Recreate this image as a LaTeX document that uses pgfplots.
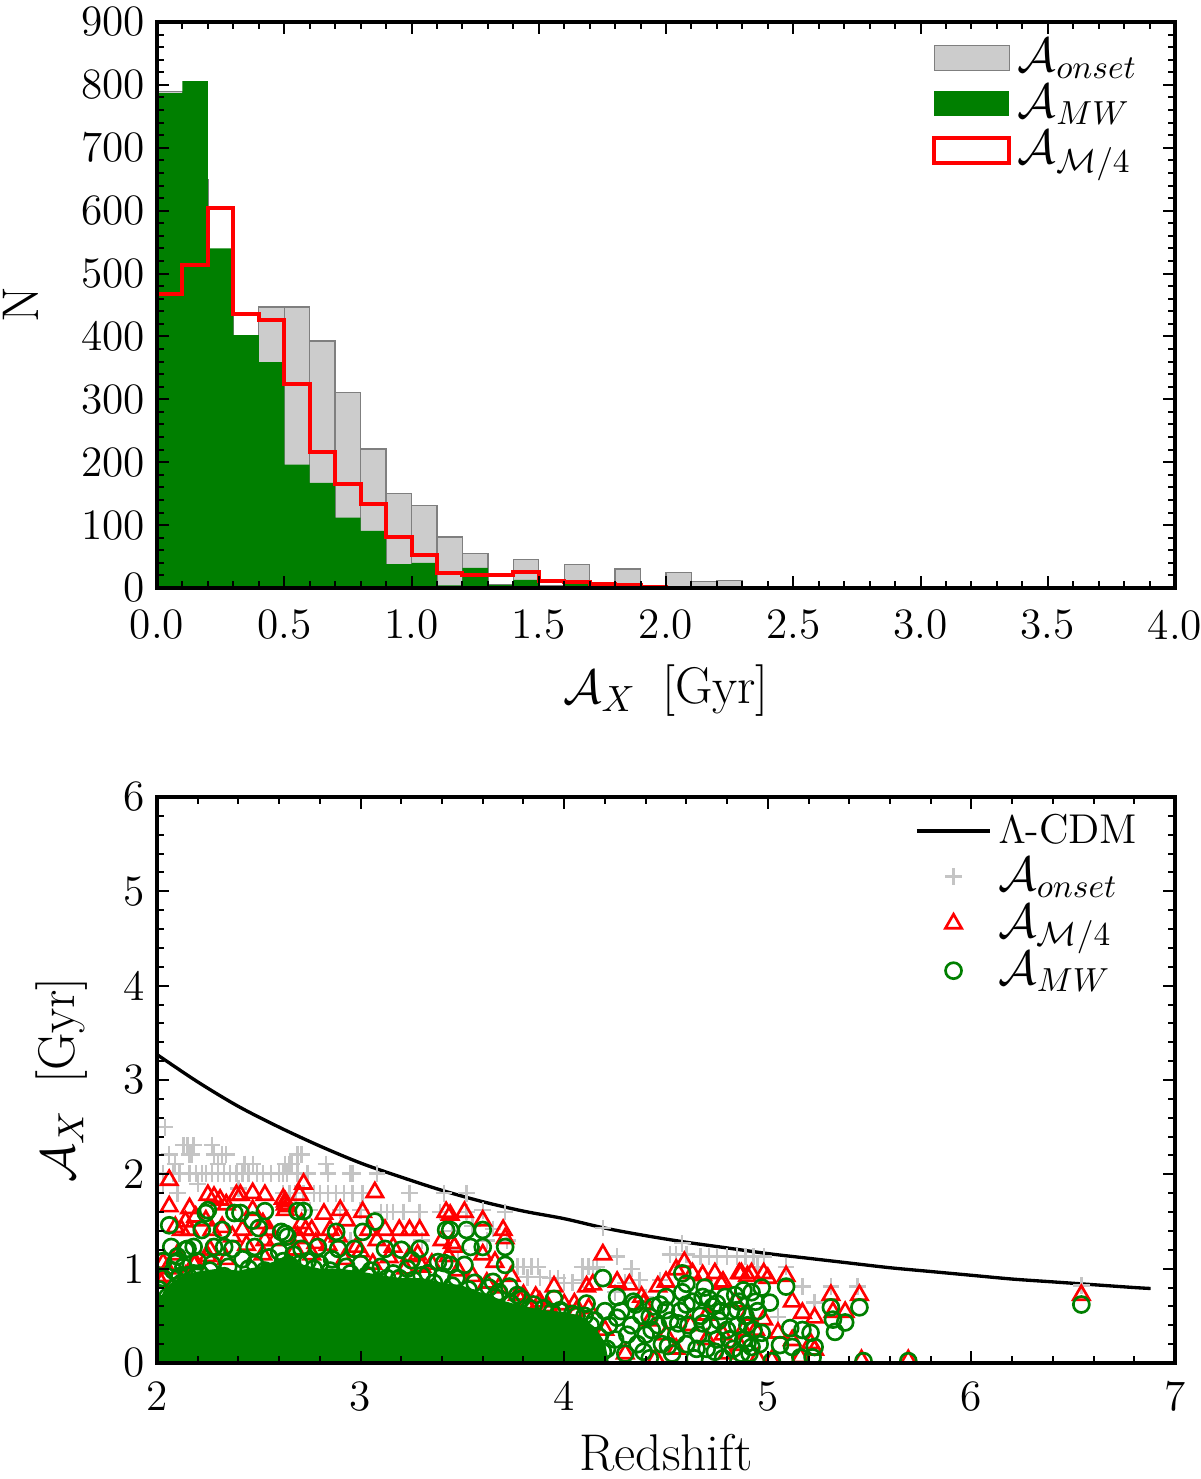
\documentclass[border=0pt]{standalone}
\usepackage{fontspec}
\usepackage{pgfplots}
\pgfplotsset{compat=1.18}

\definecolor{histgray}{HTML}{CCCCCC}
\definecolor{edgegray}{HTML}{7F7F7F}
\definecolor{plusgray}{HTML}{C4C4C4}
\definecolor{mplgreen}{HTML}{007F00}

\pgfplotsset{
  every axis/.append style={
    scale only axis, width=305.4pt, height=169.8pt, axis on top,
    axis line style={line width=1pt},
    every tick/.style={black, line width=0.6pt},
    major tick length=3.6pt, minor tick length=2.2pt,
    minor x tick num=4, minor y tick num=4,
    /pgf/number format/assume math mode=true,
    tick label style={font=\fontsize{13}{15}\selectfont},
    label style={font=\fontsize{15.5}{18}\selectfont},
    legend style={draw=none, fill=none, font=\fontsize{14.5}{16}\selectfont,
      cells={anchor=west}},
  },
  markslegend/.style={legend image code/.code={%
    \draw[mark repeat=2, mark phase=2, ##1] plot coordinates {(0pt,0pt) (11pt,0pt) (22pt,0pt)};}},
}

\begin{document}
\begin{tikzpicture}
\useasboundingbox (-47.1pt,-267.3pt) rectangle (312.9pt,176.4pt);

% histogram panel
\begin{axis}[name=top, at={(0,0)}, anchor=south west,
    xmin=0, xmax=4, ymin=0, ymax=900,
    xtick={0,0.5,...,4}, ytick={0,100,...,900},
    xticklabel style={yshift=-3pt, /pgf/number format/.cd, fixed, fixed zerofill, precision=1},
    xlabel={$\mathcal{A}_X$\enspace[Gyr]}, ylabel={N},
    xlabel shift=0.5pt, ylabel shift=6pt,
    legend style={at={(0.98,0.995)}, anchor=north east, row sep=-1.5pt},
  ]
  \addplot[ybar interval, fill=histgray, draw=edgegray, line width=0.4pt,
    legend image code/.code={\draw[fill=histgray, draw=edgegray, line width=0.4pt] (0pt,-3.75pt) rectangle (22.5pt,3.75pt);}]
    table[row sep=\\]{x y \\
      0.0 790 \\ 0.1 650 \\ 0.2 510 \\ 0.3 390 \\ 0.4 447 \\ 0.5 447 \\
      0.6 393 \\ 0.7 311 \\ 0.8 221 \\ 0.9 150 \\ 1.0 131 \\ 1.1 81 \\
      1.2 55 \\ 1.3 5 \\ 1.4 45 \\ 1.5 4 \\ 1.6 37 \\ 1.7 2 \\
      1.8 30 \\ 1.9 1 \\ 2.0 25 \\ 2.1 10 \\ 2.2 12 \\ 2.3 2 \\ 2.4 2 \\
    };
  \addlegendentry{$\mathcal{A}_{onset}$}
  \addplot[ybar interval, fill=mplgreen, draw=none,
    legend image code/.code={\fill[mplgreen] (0pt,-3.75pt) rectangle (22.5pt,3.75pt);}]
    table[row sep=\\]{x y \\
      0.0 787 \\ 0.1 806 \\ 0.2 540 \\ 0.3 402 \\ 0.4 359 \\ 0.5 196 \\
      0.6 167 \\ 0.7 112 \\ 0.8 91 \\ 0.9 38 \\ 1.0 40 \\ 1.1 4 \\
      1.2 32 \\ 1.3 5 \\ 1.4 13 \\ 1.5 2 \\ 1.6 7 \\ 1.7 1 \\ 1.8 1 \\
    };
  \addlegendentry{$\mathcal{A}_{MW}$}
  \addplot[const plot, red, line width=1.2pt,
    legend image code/.code={\draw[red, line width=1.2pt] (0pt,-3.75pt) rectangle (22.5pt,3.75pt);}]
    table[row sep=\\]{x y \\
      0.0 468 \\ 0.1 514 \\ 0.2 604 \\ 0.3 436 \\ 0.4 426 \\ 0.5 324 \\
      0.6 216 \\ 0.7 165 \\ 0.8 134 \\ 0.9 81 \\ 1.0 53 \\ 1.1 24 \\
      1.2 21 \\ 1.3 20 \\ 1.4 25 \\ 1.5 11 \\ 1.6 10 \\ 1.7 6 \\
      1.8 5 \\ 1.9 2 \\ 2.0 0 \\
    };
  \addlegendentry{$\mathcal{A}_{\mathcal{M}/4}$}
\end{axis}

% redshift panel
\begin{axis}[name=bot, at={(0,-232.5pt)}, anchor=south west,
    xmin=2, xmax=7, ymin=0, ymax=6,
    xtick={2,3,...,7}, ytick={0,1,...,6},
    xticklabel style={yshift=-2pt},
    xlabel={Redshift}, ylabel={$\mathcal{A}_X$\enspace[Gyr]},
    xlabel shift=0pt, ylabel shift=4pt,
    clip marker paths=true,
    legend style={at={(0.98,0.995)}, anchor=north east, row sep=-1.2pt},
  ]
  \addplot[black, line width=1pt, smooth,
    legend image code/.code={\draw[black, line width=1pt] (0pt,0pt) -- (22pt,0pt);}]
    table[row sep=\\]{x y \\
      2.0 3.27 \\ 2.2 2.98 \\ 2.4 2.72 \\ 2.6 2.50 \\ 2.8 2.30 \\ 3.0 2.12 \\
      3.2 1.97 \\ 3.4 1.83 \\ 3.6 1.71 \\ 3.8 1.61 \\ 4.0 1.53 \\ 4.2 1.43 \\
      4.4 1.35 \\ 4.6 1.28 \\ 4.8 1.22 \\ 5.0 1.16 \\ 5.2 1.11 \\ 5.4 1.06 \\
      5.6 1.01 \\ 5.8 0.97 \\ 6.0 0.93 \\ 6.2 0.89 \\ 6.4 0.86 \\ 6.6 0.83 \\
      6.8 0.80 \\ 6.88 0.79 \\
    };
  \addlegendentry{{\fontsize{12.5}{14}\selectfont$\Lambda$-CDM}}
  \addplot[only marks, mark=+, mark size=2.5pt, plusgray, line width=0.7pt, markslegend]
    table[row sep=\\]{x y \\
      2.04 2.50 \\ 2.13 2.31 \\ 2.15 2.31 \\ 2.18 2.31 \\ 2.27 2.31 \\
      2.06 2.21 \\ 2.16 2.21 \\ 2.17 2.21 \\ 2.28 2.21 \\ 2.32 2.21 \\ 2.34 2.21 \\
      2.69 2.21 \\ 2.71 2.21 \\ 2.09 2.11 \\ 2.30 2.11 \\ 2.43 2.11 \\ 2.47 2.11 \\
      2.63 2.11 \\ 2.65 2.11 \\ 2.66 2.11 \\ 2.83 2.11 \\
      2.03 2.01 \\ 2.08 2.01 \\ 2.11 2.01 \\ 2.16 2.01 \\ 2.19 2.01 \\ 2.22 2.01 \\
      2.24 2.01 \\ 2.27 2.01 \\ 2.30 2.01 \\ 2.33 2.01 \\ 2.36 2.01 \\ 2.39 2.01 \\
      2.42 2.01 \\ 2.45 2.01 \\ 2.49 2.01 \\ 2.52 2.01 \\ 2.56 2.01 \\ 2.60 2.01 \\
      2.62 2.01 \\ 2.64 2.01 \\ 2.69 2.01 \\ 2.74 2.01 \\ 2.84 2.01 \\ 2.95 2.01 \\
      2.96 2.01 \\ 3.08 2.01 \\
      2.03 1.90 \\ 2.20 1.90 \\ 2.40 1.85 \\
      2.10 1.80 \\ 2.62 1.80 \\ 2.65 1.80 \\ 2.68 1.80 \\ 2.72 1.80 \\ 2.77 1.80 \\
      2.80 1.80 \\ 2.84 1.80 \\ 2.88 1.80 \\ 2.92 1.80 \\ 2.96 1.80 \\ 3.01 1.80 \\
      3.24 1.80 \\ 3.41 1.80 \\ 3.52 1.80 \\
      2.75 1.62 \\ 2.90 1.62 \\ 3.00 1.62 \\ 3.10 1.60 \\ 3.13 1.60 \\ 3.16 1.60 \\
      3.21 1.60 \\ 3.29 1.60 \\ 3.39 1.60 \\ 3.52 1.60 \\ 3.60 1.62 \\ 3.71 1.60 \\
      3.45 1.40 \\ 3.55 1.45 \\ 3.65 1.42 \\ 3.62 1.30 \\ 3.72 1.30 \\ 3.30 1.30 \\
      2.95 1.30 \\ 3.48 1.20 \\
      3.77 1.02 \\ 3.80 1.02 \\ 3.84 1.02 \\ 3.87 1.02 \\ 4.09 1.02 \\ 4.12 1.02 \\
      4.16 1.02 \\ 3.82 0.91 \\ 3.88 0.91 \\ 3.93 0.90 \\ 3.97 0.90 \\ 4.00 0.85 \\
      4.04 0.85 \\ 4.19 1.43 \\ 4.26 1.13 \\ 4.14 1.00 \\ 4.33 1.00 \\ 4.09 0.88 \\
      4.37 0.88 \\ 4.47 0.88 \\ 4.52 1.15 \\ 4.55 1.15 \\ 4.58 1.27 \\ 4.60 1.15 \\
      4.67 1.13 \\ 4.71 1.13 \\ 4.75 1.13 \\ 4.80 1.13 \\ 4.85 1.13 \\ 4.89 1.13 \\
      4.93 1.13 \\ 4.98 1.13 \\ 4.95 1.02 \\ 5.09 1.02 \\ 5.17 0.81 \\ 5.31 0.81 \\
      5.44 0.81 \\ 5.23 0.64 \\ 5.05 0.49 \\ 4.25 0.75 \\ 4.30 0.85 \\ 4.40 0.70 \\
      6.54 0.82 \\
    };
  \addlegendentry{$\mathcal{A}_{onset}$}
  \addplot[only marks, mark=triangle, mark size=2.8pt, red, line width=0.8pt, markslegend]
    table[row sep=\\]{x y \\
      2.06 1.94 \\ 2.06 1.66 \\ 2.25 1.78 \\ 2.28 1.76 \\ 2.31 1.73 \\ 2.34 1.68 \\
      2.39 1.78 \\ 2.41 1.78 \\ 2.47 1.80 \\ 2.53 1.78 \\ 2.63 1.71 \\ 2.63 1.68 \\
      2.64 1.66 \\ 2.63 1.62 \\ 2.62 1.74 \\ 2.72 1.90 \\ 2.70 1.78 \\ 3.07 1.81 \\
      3.42 1.60 \\ 2.16 1.64 \\ 2.19 1.55 \\ 2.14 1.50 \\ 2.16 1.41 \\ 2.12 1.41 \\
      2.09 1.44 \\ 2.24 1.51 \\ 2.27 1.41 \\ 2.32 1.44 \\ 2.37 1.34 \\ 2.42 1.41 \\
      2.47 1.62 \\ 2.52 1.48 \\ 2.55 1.41 \\ 2.71 1.48 \\ 2.76 1.41 \\ 2.69 1.34 \\
      2.82 1.58 \\ 2.85 1.41 \\ 2.90 1.62 \\ 2.93 1.51 \\ 3.01 1.60 \\ 3.04 1.41 \\
      3.12 1.41 \\ 3.19 1.41 \\ 3.24 1.41 \\ 3.29 1.41 \\ 3.16 1.23 \\ 3.24 1.13 \\
      3.30 1.02 \\ 3.40 1.30 \\ 3.43 1.13 \\ 3.45 1.27 \\ 2.03 1.06 \\ 2.04 0.92 \\
      2.09 0.70 \\ 2.14 0.92 \\ 2.19 1.06 \\ 2.25 1.13 \\ 2.53 1.30 \\ 2.70 1.32 \\
      2.73 1.41 \\ 2.78 1.27 \\ 2.89 1.34 \\ 2.98 1.23 \\ 3.08 1.30 \\
      2.02 0.85 \\ 2.05 1.00 \\ 2.10 1.15 \\ 2.18 1.05 \\ 2.26 1.20 \\ 2.34 1.10 \\
      2.44 1.25 \\ 2.52 1.15 \\ 2.58 1.30 \\ 2.68 1.20 \\ 2.76 1.15 \\ 2.84 1.25 \\
      2.92 1.10 \\ 3.00 1.18 \\ 3.06 1.05 \\ 3.14 1.12 \\ 3.22 1.00 \\ 3.28 1.15 \\
      3.35 1.05 \\ 3.48 0.98 \\ 3.55 0.92 \\ 3.62 0.85 \\ 3.68 0.80 \\ 3.80 0.72 \\
      3.88 0.65 \\ 3.92 0.60 \\ 4.00 0.62 \\ 4.06 0.55 \\ 4.12 0.58 \\
      3.44 1.57 \\ 3.51 1.60 \\ 3.60 1.51 \\ 3.70 1.41 \\ 3.71 1.32 \\ 3.46 1.23 \\
      3.60 1.15 \\ 3.66 1.07 \\ 3.74 0.92 \\ 3.77 0.72 \\ 3.86 0.70 \\ 3.95 0.81 \\
      4.05 0.63 \\ 4.11 0.81 \\ 4.14 0.83 \\ 4.19 1.15 \\ 4.26 0.86 \\ 4.32 0.83 \\
      4.38 0.70 \\ 4.46 0.81 \\ 4.50 0.86 \\ 4.55 0.99 \\ 4.59 1.07 \\ 4.63 0.95 \\
      4.68 0.93 \\ 4.74 0.95 \\ 4.78 0.86 \\ 4.86 0.95 \\ 4.90 0.92 \\ 3.81 0.63 \\
      4.39 0.63 \\ 4.87 0.95 \\ 4.92 0.95 \\ 4.98 0.95 \\ 5.00 0.90 \\ 5.09 0.92 \\
      5.12 0.65 \\ 5.17 0.53 \\ 5.23 0.48 \\ 5.05 0.32 \\ 5.12 0.24 \\ 5.31 0.72 \\
      5.32 0.54 \\ 5.38 0.54 \\ 5.45 0.72 \\ 4.98 0.46 \\ 4.94 0.35 \\ 5.21 0.21 \\
      5.23 0.14 \\ 5.16 0.06 \\ 5.02 0.03 \\ 5.46 0.03 \\ 5.69 0.03 \\
      4.77 0.84 \\ 4.84 0.65 \\ 4.90 0.51 \\ 4.70 0.51 \\ 4.78 0.30 \\ 4.86 0.19 \\
      4.42 0.45 \\ 4.50 0.30 \\ 4.55 0.15 \\ 4.62 0.40 \\ 4.70 0.25 \\ 4.80 0.10 \\
      4.88 0.35 \\ 4.95 0.05 \\ 4.45 0.05 \\ 4.30 0.10 \\ 4.20 0.35 \\
      6.54 0.72 \\
    };
  \addlegendentry{$\mathcal{A}_{\mathcal{M}/4}$}
  % solid core where the circles overlap completely
  \addplot[fill=mplgreen, draw=none, forget plot]
    table[row sep=\\]{x y \\
      2.00 0.00 \\ 2.00 0.60 \\ 2.03 0.75 \\ 2.07 0.85 \\ 2.12 0.92 \\ 2.20 0.97 \\
      2.30 1.00 \\ 2.40 0.98 \\ 2.50 1.02 \\ 2.58 1.08 \\ 2.65 1.12 \\ 2.72 1.04 \\
      2.80 1.00 \\ 2.90 1.00 \\ 3.00 0.97 \\ 3.10 0.93 \\ 3.20 0.90 \\ 3.30 0.90 \\
      3.40 0.85 \\ 3.50 0.82 \\ 3.60 0.74 \\ 3.70 0.66 \\ 3.80 0.60 \\ 3.90 0.56 \\
      4.00 0.54 \\ 4.08 0.50 \\ 4.15 0.38 \\ 4.20 0.22 \\ 4.22 0.00 \\
    } \closedcycle;
  \addplot[only marks, mark=o, mark size=2.4pt, mplgreen, line width=0.8pt, markslegend]
    table[row sep=\\]{x y \\
      2.06 1.46 \\ 2.07 1.23 \\ 2.03 1.08 \\ 2.04 0.63 \\ 2.24 1.59 \\ 2.25 1.62 \\
      2.22 1.41 \\ 2.15 1.21 \\ 2.18 1.23 \\ 2.14 1.20 \\ 2.10 1.13 \\ 2.32 1.41 \\
      2.28 1.23 \\ 2.33 1.23 \\ 2.37 1.21 \\ 2.38 1.59 \\ 2.41 1.59 \\ 2.47 1.51 \\
      2.50 1.43 \\ 2.48 1.23 \\ 2.53 1.61 \\ 2.61 1.39 \\ 2.63 1.37 \\ 2.64 1.34 \\
      2.65 1.04 \\ 2.69 1.61 \\ 2.72 1.61 \\ 2.71 1.21 \\ 2.79 1.23 \\ 2.89 1.21 \\
      2.88 1.39 \\ 2.97 1.21 \\ 3.01 1.39 \\ 3.07 1.50 \\ 3.12 1.21 \\ 3.20 1.20 \\
      3.25 1.09 \\ 3.29 1.21 \\ 3.19 0.90 \\ 3.30 0.93 \\ 3.38 1.07 \\ 3.41 1.06 \\
      3.42 1.41 \\ 2.09 1.06 \\ 2.11 0.92 \\ 2.15 0.93 \\ 2.21 0.95 \\
      3.44 1.41 \\ 3.52 1.41 \\ 3.60 1.41 \\ 3.54 1.23 \\ 3.60 1.23 \\ 3.51 1.04 \\
      3.44 1.04 \\ 3.71 1.23 \\ 3.71 1.04 \\ 3.65 0.86 \\ 3.73 0.81 \\ 3.77 0.72 \\
      4.19 0.90 \\ 3.95 0.68 \\ 3.98 0.56 \\ 4.11 0.63 \\ 4.26 0.70 \\ 4.34 0.65 \\
      4.42 0.49 \\ 4.50 0.56 \\ 4.58 0.95 \\ 4.60 0.84 \\ 4.68 0.70 \\ 4.75 0.63 \\
      4.85 0.56 \\ 4.88 0.77 \\ 4.90 0.21 \\
      2.01 0.78 \\ 2.03 0.90 \\ 2.08 0.98 \\ 2.13 1.02 \\ 2.20 1.08 \\ 2.27 1.05 \\
      2.35 1.02 \\ 2.42 1.10 \\ 2.48 1.05 \\ 2.55 1.12 \\ 2.60 1.18 \\ 2.67 1.15 \\
      2.74 1.08 \\ 2.80 1.05 \\ 2.86 1.10 \\ 2.93 1.02 \\ 3.00 1.05 \\ 3.05 0.98 \\
      3.10 1.02 \\ 3.16 0.95 \\ 3.23 1.00 \\ 3.33 0.95 \\ 3.40 0.92 \\ 3.47 0.90 \\
      3.56 0.85 \\ 3.63 0.80 \\ 3.68 0.75 \\ 3.79 0.68 \\ 3.85 0.62 \\ 3.90 0.58 \\
      3.98 0.55 \\ 4.04 0.52 \\ 4.10 0.50 \\ 4.15 0.45 \\
      2.05 0.70 \\ 2.12 0.85 \\ 2.18 0.95 \\ 2.26 0.98 \\ 2.33 0.92 \\ 2.45 1.00 \\
      2.53 0.98 \\ 2.62 1.08 \\ 2.70 1.05 \\ 2.77 1.00 \\ 2.85 0.98 \\ 2.95 0.95 \\
      3.03 0.93 \\ 3.13 0.90 \\ 3.26 0.88 \\ 3.36 0.85 \\ 3.45 0.82 \\ 3.53 0.78 \\
      3.66 0.70 \\ 3.74 0.63 \\ 3.83 0.58 \\ 3.94 0.54 \\ 4.06 0.50 \\ 4.13 0.40 \\
      4.17 0.28 \\ 4.19 0.12 \\
      4.20 0.55 \\ 4.22 0.40 \\ 4.25 0.25 \\ 4.28 0.55 \\ 4.30 0.10 \\ 4.33 0.40 \\
      4.36 0.20 \\ 4.38 0.50 \\ 4.40 0.30 \\ 4.42 0.05 \\ 4.44 0.60 \\ 4.46 0.40 \\
      4.48 0.20 \\ 4.50 0.70 \\ 4.52 0.45 \\ 4.53 0.10 \\ 4.55 0.30 \\ 4.57 0.55 \\
      4.58 0.75 \\ 4.60 0.20 \\ 4.61 0.40 \\ 4.63 0.65 \\ 4.64 0.05 \\ 4.66 0.30 \\
      4.67 0.50 \\ 4.69 0.80 \\ 4.70 0.15 \\ 4.72 0.40 \\ 4.73 0.60 \\ 4.75 0.25 \\
      4.76 0.45 \\ 4.78 0.05 \\ 4.79 0.70 \\ 4.80 0.35 \\ 4.82 0.55 \\ 4.83 0.15 \\
      4.85 0.40 \\ 4.86 0.65 \\ 4.88 0.25 \\ 4.89 0.50 \\ 4.91 0.10 \\ 4.92 0.75 \\
      4.93 0.35 \\ 4.95 0.55 \\ 4.96 0.20 \\ 4.97 0.80 \\
      4.21 0.15 \\ 4.26 0.48 \\ 4.31 0.30 \\ 4.35 0.62 \\ 4.39 0.12 \\ 4.43 0.35 \\
      4.47 0.62 \\ 4.51 0.18 \\ 4.56 0.42 \\ 4.60 0.62 \\ 4.65 0.15 \\ 4.68 0.42 \\
      4.71 0.68 \\ 4.74 0.12 \\ 4.77 0.55 \\ 4.81 0.25 \\ 4.84 0.72 \\ 4.87 0.10 \\
      4.90 0.40 \\ 4.94 0.65 \\
      5.09 0.81 \\ 5.01 0.64 \\ 4.97 0.32 \\ 4.92 0.17 \\ 5.11 0.37 \\ 5.06 0.19 \\
      5.12 0.17 \\ 5.17 0.35 \\ 5.21 0.32 \\ 5.23 0.17 \\ 5.22 0.06 \\ 5.31 0.59 \\
      5.32 0.46 \\ 5.33 0.33 \\ 5.38 0.43 \\ 5.45 0.59 \\ 5.47 0.02 \\ 5.69 0.02 \\
      5.02 0.02 \\ 5.16 0.06 \\ 6.54 0.62 \\
    };
  \addlegendentry{$\mathcal{A}_{MW}$}
\end{axis}
\end{tikzpicture}
\end{document}
